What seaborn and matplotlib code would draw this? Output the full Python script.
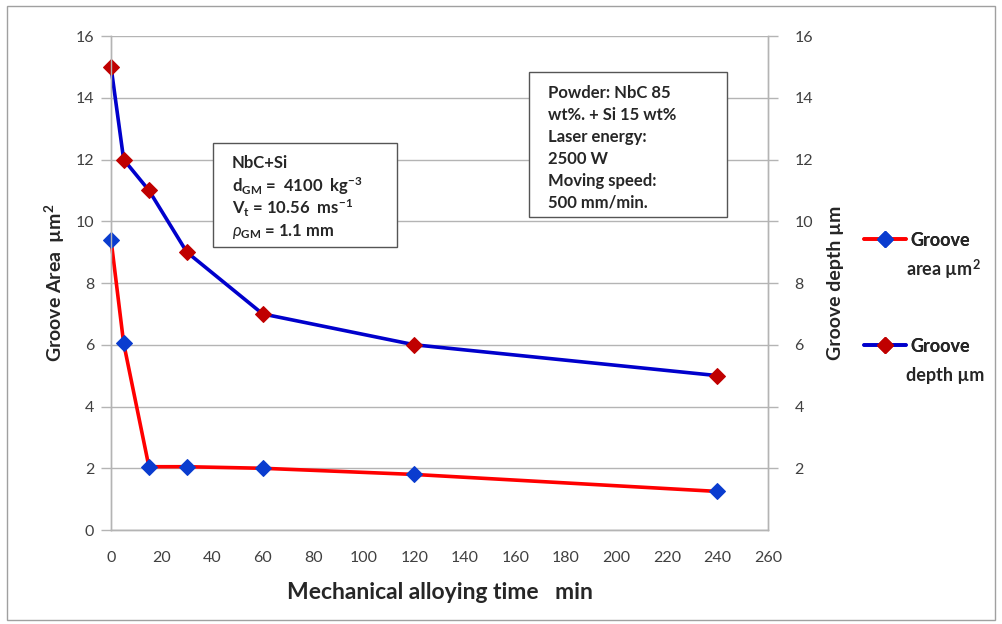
import matplotlib
matplotlib.use("Agg")
import matplotlib.pyplot as plt
import seaborn as sns
import pandas as pd
from matplotlib.lines import Line2D
from matplotlib.patches import Rectangle

# Mechanical alloying time (min)
time_min = [0, 5, 15, 30, 60, 120, 240]
# Groove area (µm²)
groove_area = [9.4, 6.05, 2.05, 2.05, 2.0, 1.8, 1.25]
# Groove depth (µm)
groove_depth = [15, 12, 11, 9, 7, 6, 5]

x_ticks = list(range(0, 261, 20))
left_ticks = list(range(0, 17, 2))
right_ticks = list(range(2, 17, 2))

sns.set_style("white")
plt.rcParams["font.family"] = ["Lato", "DejaVu Sans"]
plt.rcParams["mathtext.fontset"] = "custom"
plt.rcParams["mathtext.rm"] = "Lato"
plt.rcParams["mathtext.it"] = "Lato:italic"
plt.rcParams["mathtext.bf"] = "Lato:bold"

df = pd.DataFrame({"time": time_min, "area": groove_area, "depth": groove_depth})

W, H = 1003, 624
fig = plt.figure(figsize=(W / 100, H / 100), dpi=100)
ax = fig.add_axes([0.1107, 0.1506, 0.6550, 0.7917])
ax2 = ax.twinx()


def fx(px):
    return px / W


def fy(py):
    return 1 - py / H


grid_c = "#b4b4b4"
tick_c = "#404040"

red = "#ff0000"
blue = "#0000cc"
mk_blue = "#0a3ccf"
mk_red = "#c00000"

sns.lineplot(data=df, x="time", y="area", ax=ax, color=red, lw=2.6,
             marker="D", markersize=8.5, markerfacecolor=mk_blue,
             markeredgecolor=mk_blue, zorder=3, clip_on=False)
sns.lineplot(data=df, x="time", y="depth", ax=ax, color=blue, lw=2.6,
             marker="D", markersize=8.5, markerfacecolor=mk_red,
             markeredgecolor=mk_red, zorder=3, clip_on=False)

ax.set_xlim(0, 260)
ax.set_ylim(0, 16)
ax2.set_ylim(0, 16)
ax.set_xticks(x_ticks)
ax.set_yticks(left_ticks)
ax2.set_yticks(right_ticks)
for a in (ax, ax2):
    for s in a.spines.values():
        s.set_color(grid_c)
        s.set_linewidth(1)
ax.spines["top"].set_visible(False)
ax2.spines["top"].set_visible(False)
ax.yaxis.grid(True, color=grid_c, lw=1)
ax.set_axisbelow(True)
ax.tick_params(axis="both", direction="out", length=7, width=1, color=grid_c,
               labelcolor=tick_c, labelsize=11.5, pad=5)
ax.tick_params(axis="x", pad=8)
ax2.tick_params(axis="y", direction="out", length=7, width=1, color=grid_c,
                labelcolor=tick_c, labelsize=11.5, pad=12)

ax.set_xlabel("Mechanical alloying time   min", fontsize=16.5, fontweight="bold",
              labelpad=12)
ax.set_ylabel("Groove Area  µm$^{\\mathbf{2}}$", fontsize=14, fontweight="bold",
              labelpad=6)
ax2.set_ylabel("Groove depth µm", fontsize=14, fontweight="bold", labelpad=10)

# Annotation boxes with fixed frames
for (x0, y0, x1, y1) in [(213, 143, 397, 247), (529, 72, 727, 217)]:
    fig.patches.append(Rectangle((fx(x0), fy(y1)), fx(x1) - fx(x0), fy(y0) - fy(y1),
                                 transform=fig.transFigure, facecolor="white",
                                 edgecolor="#555555", lw=1, zorder=5))

box1_lines = [
    "NbC+Si",
    r"d$_{\mathbf{GM}}$ =  4100  kg$^{\mathbf{-3}}$",
    r"V$_{\mathbf{t}}$ = 10.56  ms$^{\mathbf{-1}}$",
    r"$\rho_{\mathbf{GM}}$ = 1.1 mm",
]
for i, line in enumerate(box1_lines):
    fig.text(fx(232), fy(163 + 22.7 * i), line, fontsize=12, fontweight="bold",
             va="center", ha="left", zorder=6)

box2_lines = ["Powder: NbC 85", "wt%. + Si 15 wt%", "Laser energy:", "2500 W",
              "Moving speed:", "500 mm/min."]
for i, line in enumerate(box2_lines):
    fig.text(fx(548), fy(93 + 21.9 * i), line, fontsize=12, fontweight="bold",
             va="center", ha="left", zorder=6)

# Legend: handle aligned with first line of each two-line label
handles = [
    Line2D([], [], color=red, lw=2.6, marker="D", markersize=8,
           markerfacecolor=mk_blue, markeredgecolor=mk_blue),
    Line2D([], [], color=blue, lw=2.6, marker="D", markersize=8,
           markerfacecolor=mk_red, markeredgecolor=mk_red),
]
for h, first, second, yl in [(handles[0], "Groove", "area µm$^{\\mathbf{2}}$", 240),
                             (handles[1], "Groove", "depth µm", 346)]:
    leg = fig.legend([h], [first], loc="center left",
                     bbox_to_anchor=(fx(855), fy(yl)), frameon=False,
                     prop={"size": 13, "weight": "bold"},
                     handlelength=2.3, handletextpad=0.25, borderpad=0)
    fig.add_artist(leg)
    fig.text(fx(906), fy(yl + 29), second, fontsize=13, fontweight="bold",
             va="center", ha="left")

fig.patches.append(Rectangle((0.007, 0.006), 0.985, 0.985, transform=fig.transFigure,
                             fill=False, edgecolor="#a0a0a0", lw=1))

fig.savefig("out.png", dpi=100)
